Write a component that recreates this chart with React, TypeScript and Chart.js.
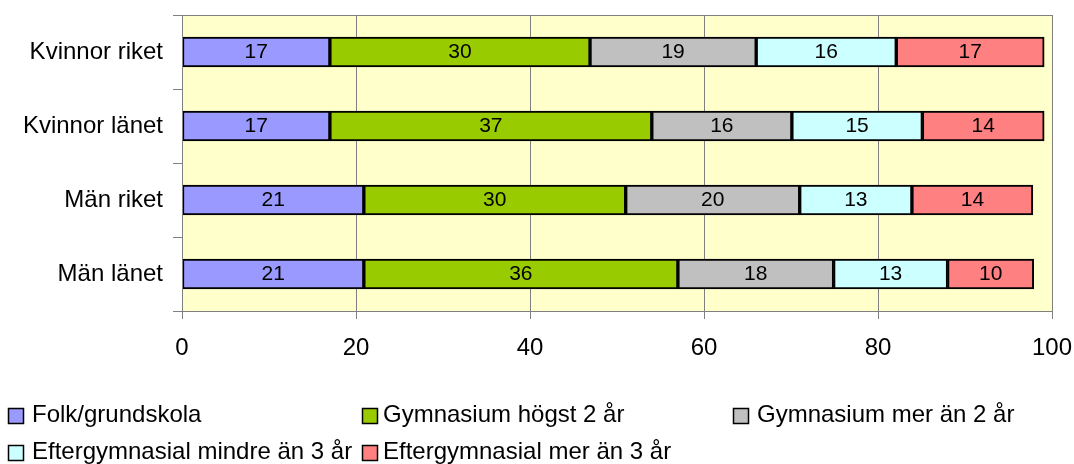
import React, { useEffect, useRef } from "react";
import { Chart, registerables } from "chart.js";

Chart.register(...registerables);

const categories = ["Kvinnor riket", "Kvinnor länet", "Män riket", "Män länet"];
const seriesNames = [
  "Folk/grundskola",
  "Gymnasium högst 2 år",
  "Gymnasium mer än 2 år",
  "Eftergymnasial mindre än 3 år",
  "Eftergymnasial mer än 3 år",
];
const folk = [17.0, 17.0, 20.9, 20.9];
const gymLow = [29.9, 37.0, 30.1, 36.1];
const gymHigh = [19.1, 16.1, 20.0, 17.9];
const eftLow = [16.1, 15.0, 12.9, 13.1];
const eftHigh = [17.0, 14.0, 13.9, 9.9];
const xTicks = [0, 20, 40, 60, 80, 100];
const colors = ["#9999FF", "#99CC00", "#C0C0C0", "#CCFFFF", "#FF8080"];

const FONT = "'Liberation Sans', Arial, sans-serif";

const noPad = (s: any) => {
  s.paddingTop = 0;
  s.paddingBottom = 0;
  s.paddingLeft = 0;
  s.paddingRight = 0;
};

export default function App() {
  const ref = useRef<HTMLCanvasElement>(null);
  useEffect(() => {
    document.body.style.margin = "0";
    const values = [folk, gymLow, gymHigh, eftLow, eftHigh];
    const bgPlugin = {
      id: "bg",
      beforeDraw(chart: any) {
        const { ctx, chartArea: a } = chart;
        ctx.save();
        ctx.fillStyle = "#FFFFCC";
        ctx.fillRect(a.left, a.top, a.right - a.left, a.bottom - a.top);
        ctx.restore();
      },
      afterDraw(chart: any) {
        const { ctx, chartArea: a } = chart;
        ctx.save();
        ctx.strokeStyle = "#808080";
        ctx.lineWidth = 1;
        ctx.strokeRect(a.left + 0.5, a.top + 0.5, a.right - a.left, a.bottom - a.top);
        // legend
        const pos = [
          [8, 408, 32],
          [362, 408, 383],
          [733, 408, 757],
          [8, 445, 32],
          [362, 445, 383],
        ];
        ctx.font = "24px " + FONT;
        ctx.textBaseline = "middle";
        ctx.textAlign = "left";
        seriesNames.forEach((n, i) => {
          const [bx, by, tx] = pos[i];
          ctx.fillStyle = colors[i];
          ctx.fillRect(bx, by, 15, 15);
          ctx.strokeStyle = "#000";
          ctx.lineWidth = 1.5;
          ctx.strokeRect(bx + 0.5, by + 0.5, 15, 15);
          ctx.fillStyle = "#000";
          ctx.fillText(n, tx, by + 7);
        });
        ctx.restore();
      },
    };
    const labelPlugin = {
      id: "vals",
      afterDatasetsDraw(chart: any) {
        const { ctx } = chart;
        ctx.save();
        ctx.font = "21px " + FONT;
        ctx.fillStyle = "#000";
        ctx.textAlign = "center";
        ctx.textBaseline = "middle";
        chart.data.datasets.forEach((ds: any, di: number) => {
          const meta = chart.getDatasetMeta(di);
          meta.data.forEach((el: any, i: number) => {
            const cx = (el.x + el.base) / 2;
            ctx.fillText(String(Math.round(ds.data[i])), cx, el.y);
          });
        });
        ctx.restore();
      },
    };
    const chart = new Chart(ref.current!, {
      type: "bar",
      data: {
        labels: categories,
        datasets: seriesNames.map((n, i) => ({
          label: n,
          data: values[i],
          backgroundColor: colors[i],
          borderColor: "#000",
          borderWidth: 2,
          borderSkipped: false,
          barThickness: 30,
        })),
      },
      options: {
        indexAxis: "y",
        animation: false,
        responsive: false,
        layout: { padding: { left: 0, right: 22, top: 15, bottom: 103 } },
        plugins: { legend: { display: false }, tooltip: { enabled: false } },
        scales: {
          x: {
            stacked: true,
            min: 0,
            max: 100,
            afterBuildTicks: (s: any) => {
              s.ticks = xTicks.map((v) => ({ value: v }));
            },
            afterFit: (s: any) => {
              s.height = 50;
              noPad(s);
            },
            grid: { color: "#808080", lineWidth: 1, tickLength: 8 },
            border: { color: "#808080" },
            ticks: { color: "#000", font: { family: FONT, size: 24 }, padding: 15 },
          },
          y: {
            stacked: true,
            afterFit: (s: any) => {
              s.width = 182;
              noPad(s);
            },
            grid: {
              offset: true,
              drawOnChartArea: false,
              color: "#808080",
              tickLength: 9,
            },
            border: { color: "#808080" },
            ticks: { color: "#000", font: { family: FONT, size: 24 }, padding: 10 },
          },
        },
      },
      plugins: [bgPlugin, labelPlugin],
    });
    return () => chart.destroy();
  }, []);
  return (
    <div style={{ position: "absolute", left: 0, top: 0, width: 1074, height: 464 }}>
      <canvas ref={ref} width={1074} height={464} style={{ width: 1074, height: 464 }} />
    </div>
  );
}
